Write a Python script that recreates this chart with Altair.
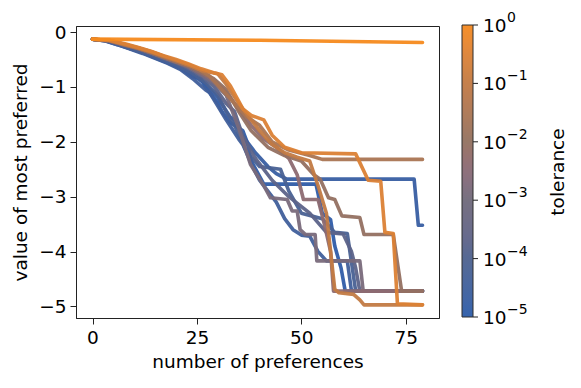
import altair as alt
import pandas as pd

# tolerance of each run (drawn in this order: blue first, orange last)
tolerances = [1.2e-5, 2e-5, 3.5e-5, 7e-5, 2e-4, 1.5e-3, 4e-3, 9e-3, 0.03, 0.1, 0.3, 1.0]

# vertices of each run: number of preferences (x) and value of most preferred (y)
xs = [
    [0, 3, 6, 9, 12, 15, 18, 21, 24, 26, 27, 30, 31, 33, 36, 37, 38, 41, 53.5, 55, 57, 58, 59.5, 60.5, 79],
    [0, 3, 6, 9, 12, 15, 18, 21, 24, 27, 30, 33, 34, 36, 39, 42, 44, 46.5, 77, 78, 79],
    [0, 3, 6, 9, 12, 15, 18, 21, 24, 27, 28, 30, 32, 35, 36, 38, 40, 44, 46, 48, 50, 52, 54, 56, 61, 62, 79],
    [0, 3, 6, 9, 12, 15, 18, 21, 24, 27, 30, 32, 34, 37, 40, 45, 47, 50, 55, 58, 61, 62, 63, 79],
    [0, 4, 8, 11, 14, 17, 20, 23, 26, 29, 32, 34, 36, 39, 43, 47, 52, 56, 60, 62, 63, 64, 79],
    [0, 4, 8, 11, 14, 17, 20, 23, 26, 29, 32, 35, 36.5, 37.8, 41, 42.6, 46.6, 47.8, 49, 49.7, 51, 53.3, 53.7, 64, 64.8, 79],
    [0, 4, 8, 11, 14, 17, 20, 23, 26, 29, 32, 35, 38, 41, 44, 47, 49, 50.5, 54, 55.5, 57, 57.7, 79],
    [0, 4, 8, 11, 14, 17, 20, 23, 26, 29, 32, 35, 38, 42, 46, 50, 53, 54.5, 56.5, 58, 59.7, 64, 65, 72, 74, 79],
    [0, 4, 8, 11, 14, 17, 20, 23, 26, 28, 31, 34, 37, 40, 43, 47, 52, 55, 79],
    [0, 4, 8, 11, 14, 17, 20, 23, 26, 30, 32, 35, 38, 40, 43, 46, 49, 52, 54, 56, 57, 58, 59, 62.5, 64, 65, 79],
    [0, 4, 8, 11, 14, 17, 20, 23, 26, 29, 31, 33, 36, 38, 41, 43, 46, 50, 63, 66, 69, 70, 72, 73, 79],
    [0, 40, 79],
]
ys = [
    [-0.13, -0.16, -0.23, -0.3, -0.38, -0.47, -0.56, -0.66, -0.82, -0.85, -1.0, -1.3, -1.45, -1.65, -1.8, -2.0, -2.35, -2.77, -2.77, -3.3, -3.42, -3.9, -4.3, -4.72, -4.72],
    [-0.13, -0.15, -0.22, -0.29, -0.37, -0.46, -0.55, -0.65, -0.78, -0.95, -1.2, -1.55, -1.6, -1.9, -2.2, -2.45, -2.58, -2.68, -2.68, -3.52, -3.52],
    [-0.13, -0.16, -0.23, -0.31, -0.39, -0.48, -0.57, -0.68, -0.85, -1.05, -1.1, -1.35, -1.6, -1.95, -2.05, -2.4, -2.7, -3.1, -3.4, -3.6, -3.7, -3.72, -4.0, -4.17, -4.17, -4.72, -4.72],
    [-0.13, -0.15, -0.22, -0.3, -0.37, -0.45, -0.54, -0.63, -0.76, -0.92, -1.15, -1.45, -1.7, -2.2, -2.45, -2.5, -2.9, -3.3, -3.4, -3.65, -3.67, -4.2, -4.72, -4.72],
    [-0.13, -0.17, -0.25, -0.31, -0.39, -0.48, -0.56, -0.66, -0.8, -0.98, -1.3, -1.45, -1.9, -2.3, -2.7, -3.0, -3.3, -3.65, -3.68, -4.0, -4.3, -4.72, -4.72],
    [-0.13, -0.16, -0.24, -0.3, -0.38, -0.47, -0.55, -0.64, -0.77, -0.92, -1.15, -1.75, -2.1, -2.41, -2.8, -3.02, -3.05, -3.26, -3.26, -3.6, -3.69, -3.69, -4.17, -4.17, -4.72, -4.72],
    [-0.13, -0.16, -0.24, -0.3, -0.38, -0.46, -0.54, -0.62, -0.74, -0.88, -1.1, -1.4, -1.7, -1.95, -2.1, -2.3, -2.6, -3.05, -3.05, -3.5, -4.0, -4.72, -4.72],
    [-0.13, -0.16, -0.24, -0.3, -0.38, -0.46, -0.54, -0.62, -0.73, -0.85, -1.05, -1.45, -1.8, -2.1, -2.25, -2.35, -2.6, -2.68, -3.02, -3.05, -3.35, -3.38, -3.69, -3.69, -4.72, -4.72],
    [-0.13, -0.15, -0.23, -0.29, -0.36, -0.44, -0.52, -0.6, -0.7, -0.8, -1.05, -1.3, -1.55, -1.7, -2.0, -2.15, -2.25, -2.32, -2.32],
    [-0.13, -0.15, -0.23, -0.29, -0.36, -0.44, -0.52, -0.6, -0.7, -0.76, -0.95, -1.3, -1.6, -1.8, -2.05, -2.2, -2.28, -2.35, -2.8, -3.3, -4.0, -4.69, -4.75, -4.78, -4.88, -4.97, -4.97],
    [-0.13, -0.15, -0.22, -0.28, -0.35, -0.43, -0.5, -0.58, -0.67, -0.74, -0.78, -0.98, -1.4, -1.52, -1.6, -1.88, -2.1, -2.2, -2.22, -2.7, -2.72, -3.65, -3.67, -4.95, -4.97],
    [-0.13, -0.15, -0.19],
]

x_ticks = [0, 25, 50, 75]
y_ticks = [0, -1, -2, -3, -4, -5]
legend_ticks = [1e-5, 1e-4, 1e-3, 1e-2, 1e-1, 1e0]
legend_exponents = ["−5", "−4", "−3", "−2", "−1", "0"]
colormap = ["#2b5caa", "#4d628f", "#6f6a7b", "#92715f", "#c27a43", "#f68a1e"]
colorbar_label = "tolerance"

rows = []
for i, (tol, xv, yv) in enumerate(zip(tolerances, xs, ys)):
    for k, (a, b) in enumerate(zip(xv, yv)):
        rows.append({"series": f"s{i:02d}", "tol": tol, "n": a, "v": b, "k": k})
df = pd.DataFrame(rows)
ticks_df = pd.DataFrame({"tick": legend_ticks, "exp": legend_exponents, "base": ["10"] * 6})

FONT = "DejaVu Sans"
FS = 18.5

lines = alt.Chart(df).mark_line(
    strokeWidth=3.6, opacity=0.95, strokeJoin="round", strokeCap="round"
).encode(
    x=alt.X("n:Q", scale=alt.Scale(domain=[-3.95, 82.95], nice=False, zero=False),
            axis=alt.Axis(values=x_ticks, title="number of preferences", format="d",
                          titlePadding=6)),
    y=alt.Y("v:Q", scale=alt.Scale(domain=[-5.21, 0.11], nice=False, zero=False),
            axis=alt.Axis(values=y_ticks, title="value of most preferred", titlePadding=8,
                          labelExpr="datum.value < 0 ? '−' + format(abs(datum.value), 'd') : datum.label")),
    color=alt.Color("tol:Q",
                    scale=alt.Scale(type="log", domain=[1e-5, 1], range=colormap),
                    legend=alt.Legend(
                        title=None, orient="none", legendX=386, legendY=-1,
                        direction="vertical", gradientLength=292, gradientThickness=11,
                        gradientStrokeColor="#222", gradientStrokeWidth=1,
                        values=legend_ticks, labelExpr="''", padding=0)),
    detail="series:N",
    order="k:Q",
)

cb_y = alt.Y("tick:Q", scale=alt.Scale(type="log", domain=[1e-5, 1], range=[291, -1]), axis=None)

cb_ticks = alt.Chart(ticks_df).mark_rule(color="#222", strokeWidth=1).encode(
    x=alt.value(397), x2=alt.value(402), y=cb_y)

cb_base = alt.Chart(ticks_df).mark_text(
    font=FONT, fontSize=FS, color="black", align="left", baseline="middle", dy=1
).encode(x=alt.value(407), y=cb_y, text="base:N")

cb_exp = alt.Chart(ticks_df).mark_text(
    font=FONT, fontSize=14, color="black", align="left", baseline="middle", dy=-7
).encode(x=alt.value(431), y=cb_y, text="exp:N")

cbar_title = alt.Chart(pd.DataFrame({"t": [colorbar_label]})).mark_text(
    angle=270, font=FONT, fontSize=FS, color="black", align="center", baseline="middle"
).encode(x=alt.value(482), y=alt.value(146), text="t:N")

chart = alt.layer(lines, cb_ticks, cb_base, cb_exp, cbar_title).resolve_scale(
    y="independent"
).properties(
    width=363, height=292,
    autosize=alt.AutoSizeParams(type="none"),
    padding={"left": 68, "top": 18, "right": 130, "bottom": 60},
).configure_view(
    stroke="#222", strokeWidth=1
).configure_axis(
    grid=False, domainColor="#222", tickColor="#222", tickSize=6,
    labelFont=FONT, labelFontSize=FS, labelColor="black", labelPadding=4,
    titleFont=FONT, titleFontSize=FS, titleFontWeight="normal", titleColor="black",
)

chart.save("out.html", embed_options={"renderer": "svg", "actions": False})
